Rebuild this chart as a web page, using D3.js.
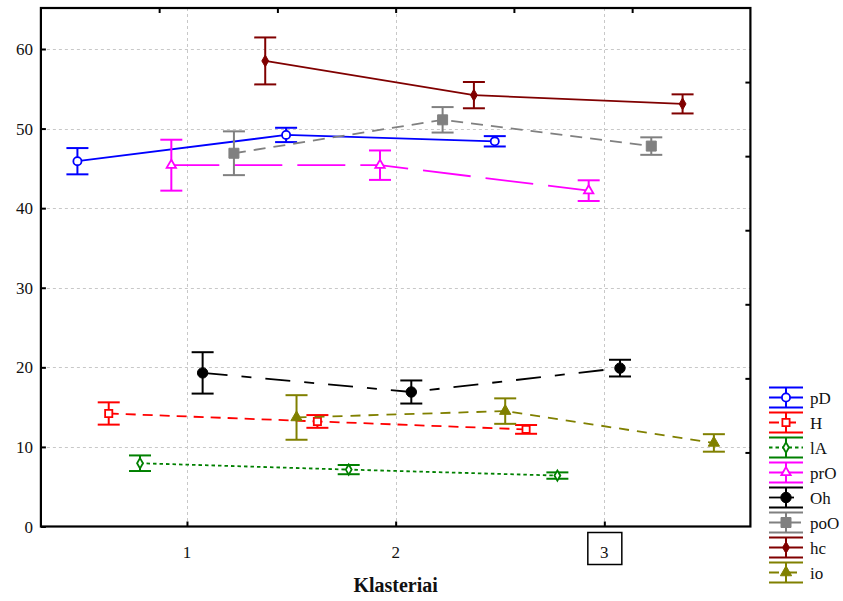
<!DOCTYPE html>
<html>
<head>
<meta charset="utf-8">
<script src="https://cdn.jsdelivr.net/npm/d3@7"></script>
<style>
  html, body { margin: 0; padding: 0; background: #fff; }
  svg { display: block; }
  text { font-family: "Liberation Serif", "Times New Roman", serif; fill: #111; }
</style>
</head>
<body>
<svg id="chart" width="843" height="601"></svg>
<script>
// Cluster means with error bars for eight indicators
const categories = [1, 2, 3];
const xTickLabels = ["1", "2", "3"];
const yTicks = [0, 10, 20, 30, 40, 50, 60];
const seriesNames = ["pD", "H", "lA", "prO", "Oh", "poO", "hc", "io"];

const pD  = [45.9, 49.2, 48.4];
const H   = [14.2, 13.2, 12.2];
const lA  = [7.95, 7.15, 6.4];
const prO = [45.4, 45.4, 42.2];
const Oh  = [19.3, 16.9, 19.9];
const poO = [46.9, 51.1, 47.8];
const hc  = [58.5, 54.2, 53.1];
const io  = [13.7, 14.5, 10.5];

// half-widths of the error bars
const pDErr  = [1.65, 0.9, 0.65];
const HErr   = [1.4, 0.8, 0.55];
const lAErr  = [0.98, 0.58, 0.4];
const prOErr = [3.2, 1.85, 1.3];
const OhErr  = [2.6, 1.45, 1.05];
const poOErr = [2.75, 1.6, 1.1];
const hcErr  = [2.95, 1.65, 1.2];
const ioErr  = [2.8, 1.6, 1.1];

const values = [pD, H, lA, prO, Oh, poO, hc, io];
const errors = [pDErr, HErr, lAErr, prOErr, OhErr, poOErr, hcErr, ioErr];

// drawing styles per series
const styles = [
  { color: "#0000ff", dash: null,          sym: d3.symbolCircle,   size: 52,  fill: "#fff", width: 1.8 },
  { color: "#ff0000", dash: "10,7",        sym: d3.symbolSquare,   size: 52,  fill: "#fff", width: 1.8 },
  { color: "#008000", dash: "3.5,3",       sym: d3.symbolDiamond,  size: 30,  fill: "#fff", width: 1.8 },
  { color: "#ff00ff", dash: "48,15",       sym: d3.symbolTriangle, size: 38,  fill: "#fff", width: 1.8 },
  { color: "#000000", dash: "25,14,10,14", sym: d3.symbolCircle,   size: 85,  fill: null,   width: 1.8 },
  { color: "#808080", dash: "12,8",        sym: d3.symbolSquare,   size: 100, fill: null,   width: 1.8 },
  { color: "#800000", dash: null,          sym: d3.symbolDiamond,  size: 40,  fill: null,   width: 1.8 },
  { color: "#808000", dash: "10,8",        sym: d3.symbolTriangle, size: 55,  fill: null,   width: 1.8 }
];

const svg = d3.select("#chart");
const plot = { left: 40.9, right: 750.4, top: 8, bottom: 526.5 };

const x = d3.scaleLinear().domain([0.3, 3.7]).range([plot.left, plot.right]);
const y = d3.scaleLinear().domain([0, 65.15]).range([plot.bottom, plot.top]);
// secondary scales of the frame's top and right edges
const xTop = d3.scaleLinear().domain([0, 6]).range([plot.left, plot.right]);
const yRight = d3.scaleLinear().domain([0, 7]).range([plot.bottom, plot.top]);

const offsetStep = 0.15;
const offset = i => (i - (seriesNames.length - 1) / 2) * offsetStep;

// grid
const grid = svg.append("g").attr("stroke", "#c8c8c8").attr("stroke-width", 1).attr("stroke-dasharray", "3,3");
grid.selectAll("line.h").data(yTicks.filter(d => d > 0)).join("line")
  .attr("x1", plot.left).attr("x2", plot.right)
  .attr("y1", d => Math.round(y(d)) + 0.5).attr("y2", d => Math.round(y(d)) + 0.5);
grid.selectAll("line.v").data(categories).join("line")
  .attr("y1", plot.top).attr("y2", plot.bottom)
  .attr("x1", d => Math.round(x(d)) + 0.5).attr("x2", d => Math.round(x(d)) + 0.5);

// series
values.forEach((vals, i) => {
  const st = styles[i];
  const g = svg.append("g");
  const pts = vals.map((v, k) => ({ cx: x(categories[k] + offset(i)), v, e: errors[i][k] }));
  const line = d3.line().x(d => d.cx).y(d => y(d.v));
  g.append("path").datum(pts).attr("d", line)
    .attr("fill", "none").attr("stroke", st.color).attr("stroke-width", st.width)
    .attr("stroke-dasharray", st.dash);
  const eb = g.selectAll("g.eb").data(pts).join("g").attr("stroke", st.color).attr("stroke-width", 2);
  eb.append("line").attr("x1", d => d.cx).attr("x2", d => d.cx)
    .attr("y1", d => y(d.v + d.e)).attr("y2", d => y(d.v - d.e));
  eb.append("line").attr("x1", d => d.cx - 11).attr("x2", d => d.cx + 11)
    .attr("y1", d => y(d.v + d.e)).attr("y2", d => y(d.v + d.e));
  eb.append("line").attr("x1", d => d.cx - 11).attr("x2", d => d.cx + 11)
    .attr("y1", d => y(d.v - d.e)).attr("y2", d => y(d.v - d.e));
  g.selectAll("path.m").data(pts).join("path")
    .attr("d", d3.symbol(st.sym, st.size))
    .attr("transform", d => `translate(${d.cx},${y(d.v)})`)
    .attr("fill", st.fill || st.color)
    .attr("stroke", st.color).attr("stroke-width", st.fill ? 1.8 : 1);
});

// frame
svg.append("rect")
  .attr("x", plot.left).attr("y", plot.top)
  .attr("width", plot.right - plot.left).attr("height", plot.bottom - plot.top)
  .attr("fill", "none").attr("stroke", "#000").attr("stroke-width", 2.2);

// axes (inward ticks)
const axLeft = svg.append("g").attr("transform", `translate(${plot.left},0)`)
  .call(d3.axisRight(y).tickValues(yTicks).tickSize(5).tickFormat(""));
const axBottom = svg.append("g").attr("transform", `translate(0,${plot.bottom})`)
  .call(d3.axisTop(x).tickValues(categories).tickSize(5).tickFormat(""));
const axRight = svg.append("g").attr("transform", `translate(${plot.right},0)`)
  .call(d3.axisLeft(yRight).tickValues([1, 2, 3, 4, 5, 6]).tickSize(5).tickFormat(""));
const axTop = svg.append("g").attr("transform", `translate(0,${plot.top})`)
  .call(d3.axisBottom(xTop).tickValues([1, 2, 3, 4, 5]).tickSize(5).tickFormat(""));
[axLeft, axBottom, axRight, axTop].forEach(a => {
  a.select(".domain").remove();
  a.selectAll("line").attr("stroke", "#000").attr("stroke-width", 2);
});

// tick labels
svg.append("g").selectAll("text").data(yTicks).join("text")
  .attr("x", 33).attr("y", d => y(d) + 6)
  .attr("text-anchor", "end").attr("font-size", 17)
  .text(d => d);
svg.append("g").selectAll("text").data(categories).join("text")
  .attr("x", d => x(d)).attr("y", 558)
  .attr("text-anchor", "middle").attr("font-size", 17)
  .text((d, i) => xTickLabels[i]);

// focus box around the last category label
svg.append("rect")
  .attr("x", x(categories[2]) - 16.5).attr("y", 532.5).attr("width", 34).attr("height", 32)
  .attr("fill", "none").attr("stroke", "#000").attr("stroke-width", 1.5);

// axis title
svg.append("text")
  .attr("x", (plot.left + plot.right) / 2).attr("y", 592)
  .attr("text-anchor", "middle").attr("font-size", 20).attr("font-weight", "bold")
  .text("Klasteriai");

// legend
const legend = svg.append("g");
seriesNames.forEach((name, i) => {
  const st = styles[i];
  const cy = 397.5 + i * 25;
  const x0 = 769, x1 = 803, xc = (x0 + x1) / 2;
  const lg = legend.append("g").attr("stroke", st.color);
  lg.append("line").attr("x1", x0).attr("x2", x1).attr("y1", cy - 10).attr("y2", cy - 10).attr("stroke-width", 2);
  lg.append("line").attr("x1", x0).attr("x2", x1).attr("y1", cy + 10).attr("y2", cy + 10).attr("stroke-width", 2);
  lg.append("line").attr("x1", xc).attr("x2", xc).attr("y1", cy - 10).attr("y2", cy + 10).attr("stroke-width", 2);
  lg.append("line").attr("x1", x0).attr("x2", x1).attr("y1", cy).attr("y2", cy)
    .attr("stroke-width", st.width).attr("stroke-dasharray", st.dash);
  lg.append("path").attr("d", d3.symbol(st.sym, st.size))
    .attr("transform", `translate(${xc},${cy})`)
    .attr("fill", st.fill || st.color).attr("stroke-width", st.fill ? 1.8 : 1);
  legend.append("text").attr("x", 810).attr("y", cy + 6)
    .attr("font-size", 17).text(name);
});
</script>
</body>
</html>
